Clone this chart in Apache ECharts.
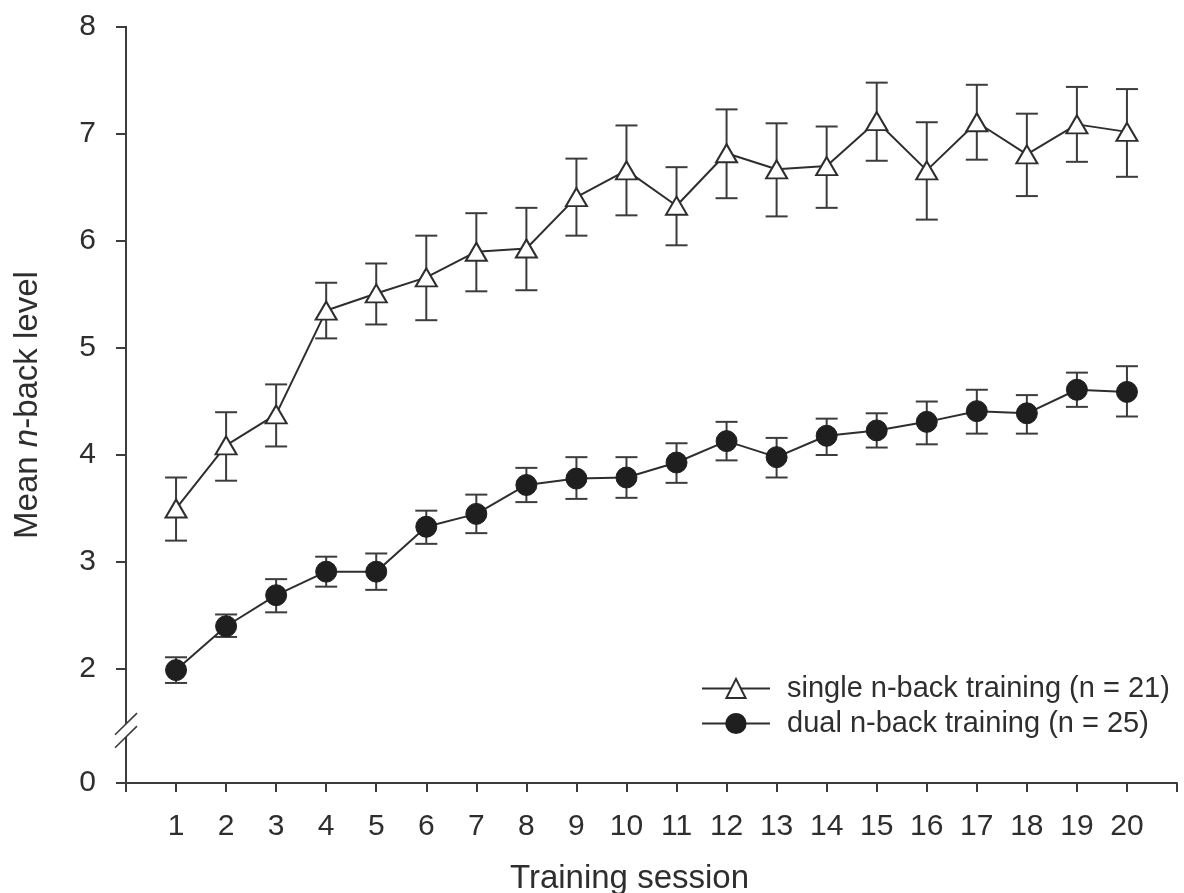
<!DOCTYPE html>
<html>
<head>
<meta charset="utf-8">
<script src="https://cdn.jsdelivr.net/npm/echarts@6/dist/echarts.min.js"></script>
<style>
html,body{margin:0;padding:0;background:#fff;}
#chart{width:1184px;height:893px;}
</style>
</head>
<body>
<div id="chart"></div>
<script>
// ---- data ----
const sessions = [1,2,3,4,5,6,7,8,9,10,11,12,13,14,15,16,17,18,19,20];
const singleMean = [3.50,4.09,4.38,5.35,5.51,5.66,5.90,5.93,6.41,6.66,6.33,6.82,6.67,6.70,7.12,6.66,7.11,6.81,7.09,7.02];
const singleLow  = [3.20,3.76,4.08,5.09,5.22,5.26,5.53,5.54,6.05,6.24,5.96,6.40,6.23,6.31,6.75,6.20,6.76,6.42,6.74,6.60];
const singleHigh = [3.79,4.40,4.66,5.61,5.79,6.05,6.26,6.31,6.77,7.08,6.69,7.23,7.10,7.07,7.48,7.11,7.46,7.19,7.44,7.42];
const dualMean = [1.99,2.40,2.69,2.91,2.91,3.33,3.45,3.72,3.78,3.79,3.93,4.13,3.98,4.18,4.23,4.31,4.41,4.39,4.61,4.59];
const dualLow  = [1.87,2.30,2.53,2.77,2.74,3.17,3.27,3.56,3.59,3.60,3.74,3.95,3.79,4.00,4.07,4.10,4.20,4.20,4.45,4.36];
const dualHigh = [2.11,2.51,2.84,3.05,3.08,3.48,3.63,3.88,3.98,3.98,4.11,4.31,4.16,4.34,4.39,4.50,4.61,4.56,4.77,4.83];
const seriesNames = ['single n-back training (n = 21)', 'dual n-back training (n = 25)'];
const yTickValues = [2,3,4,5,6,7,8];
const yZeroLabel = '0';
const xAxisTitle = 'Training session';

// ---- axis layout (broken y axis: "0" drawn just below the break) ----
const Y_MIN = 0.935;   // axis position where the "0" label sits
const Y_MAX = 8;
const BREAK_LOW = 1.365, BREAK_HIGH = 1.487;

const FONT = '"Liberation Sans", Arial, Helvetica, sans-serif';
const INK = '#2e2e2e';
const AXIS = '#3c3c3c';

const chart = echarts.init(document.getElementById('chart'), null, {renderer:'canvas'});

function errRender(color){
  return function(params, api){
    const x = api.value(0), lo = api.value(1), hi = api.value(2);
    const a = api.coord([x, lo]), b = api.coord([x, hi]);
    const hw = 11;
    const st = {stroke: color, lineWidth: 2};
    return {type:'group', children:[
      {type:'line', shape:{x1:a[0], y1:a[1], x2:b[0], y2:b[1]}, style: st},
      {type:'line', shape:{x1:a[0]-hw, y1:a[1], x2:a[0]+hw, y2:a[1]}, style: st},
      {type:'line', shape:{x1:b[0]-hw, y1:b[1], x2:b[0]+hw, y2:b[1]}, style: st}
    ]};
  };
}

const option = {
  animation: false,
  backgroundColor: '#fff',
  textStyle: {fontFamily: FONT, color: INK},
  grid: {left: 126, right: 7, top: 27, bottom: 110, containLabel: false, outerBoundsMode: 'none'},
  legend: {
    orient: 'vertical',
    left: 696, top: 669,
    itemWidth: 68, itemHeight: 24, itemGap: 6,
    data: seriesNames,
    textStyle: {fontSize: 29, color: INK, fontFamily: FONT, padding: [0,0,0,12], lineHeight: 28},
    selectedMode: false
  },
  xAxis: {
    type: 'value', min: 0, max: 21, interval: 1,
    name: xAxisTitle, nameLocation: 'middle', nameGap: 79,
    nameTextStyle: {fontSize: 33, color: INK, fontFamily: FONT, padding: [0,44,0,0]},
    axisLine: {show: true, lineStyle: {color: AXIS, width: 2}},
    axisTick: {show: true, inside: false, length: 9, lineStyle: {color: AXIS, width: 2}},
    axisLabel: {
      show: true, margin: 29, fontSize: 30, color: INK, fontFamily: FONT,
      showMinLabel: true, showMaxLabel: true,
      formatter: v => (v >= sessions[0] && v <= sessions[sessions.length-1]) ? String(v) : ''
    },
    splitLine: {show: false}
  },
  yAxis: {
    type: 'value', min: Y_MIN, max: Y_MAX,
    name: 'Mean {i|n}-back level', nameLocation: 'middle', nameGap: 82, nameRotate: 90,
    nameTextStyle: {fontSize: 33, color: INK, fontFamily: FONT,
      rich: {i: {fontStyle: 'italic', fontSize: 33, color: INK, fontFamily: FONT}}},
    axisLine: {show: false},
    axisTick: {show: true, length: 10, customValues: [Y_MIN].concat(yTickValues),
      lineStyle: {color: AXIS, width: 2}},
    axisLabel: {show: true, margin: 30, fontSize: 30, color: INK, fontFamily: FONT,
      customValues: [Y_MIN].concat(yTickValues),
      formatter: v => (v < 1.5 ? yZeroLabel : String(Math.round(v)))},
    splitLine: {show: false}
  },
  series: [
    {
      name: 'single-err', type: 'custom', z: 1, silent: true,
      renderItem: errRender(AXIS),
      encode: {x: 0, y: [1, 2]},
      data: sessions.map((s, i) => [s, singleLow[i], singleHigh[i]])
    },
    {
      name: 'dual-err', type: 'custom', z: 1, silent: true,
      renderItem: errRender(AXIS),
      encode: {x: 0, y: [1, 2]},
      data: sessions.map((s, i) => [s, dualLow[i], dualHigh[i]])
    },
    {
      name: seriesNames[0], type: 'line', z: 3,
      symbol: 'triangle', symbolSize: [21, 18], showAllSymbol: true,
      lineStyle: {color: INK, width: 2},
      itemStyle: {color: '#ffffff', borderColor: INK, borderWidth: 2},
      data: sessions.map((s, i) => [s, singleMean[i]])
    },
    {
      name: seriesNames[1], type: 'line', z: 4,
      symbol: 'circle', symbolSize: 21, showAllSymbol: true,
      lineStyle: {color: INK, width: 2},
      itemStyle: {color: '#1f1f1f', borderColor: '#1f1f1f', borderWidth: 1},
      data: sessions.map((s, i) => [s, dualMean[i]])
    }
  ]
};
chart.setOption(option);

// y-axis line with a break, placed through the axis scale
const ax = chart.convertToPixel({xAxisIndex: 0}, 0);
const yTop = chart.convertToPixel({yAxisIndex: 0}, Y_MAX);
const yBot = chart.convertToPixel({yAxisIndex: 0}, Y_MIN);
const yBh = chart.convertToPixel({yAxisIndex: 0}, BREAK_HIGH);
const yBl = chart.convertToPixel({yAxisIndex: 0}, BREAK_LOW);
const ls = {stroke: AXIS, lineWidth: 2};
const sl = {stroke: AXIS, lineWidth: 1.6};
const dx = 11, dy = 10.8;
chart.setOption({
  graphic: [
    {type:'line', silent:true, z:10, shape:{x1:ax, y1:yTop-1, x2:ax, y2:yBh}, style: ls},
    {type:'line', silent:true, z:10, shape:{x1:ax, y1:yBl, x2:ax, y2:yBot}, style: ls},
    {type:'line', silent:true, z:10, shape:{x1:ax-dx, y1:yBh+dy, x2:ax+dx, y2:yBh-dy}, style: sl},
    {type:'line', silent:true, z:10, shape:{x1:ax-dx, y1:yBl+dy, x2:ax+dx, y2:yBl-dy}, style: sl}
  ]
});
</script>
</body>
</html>
